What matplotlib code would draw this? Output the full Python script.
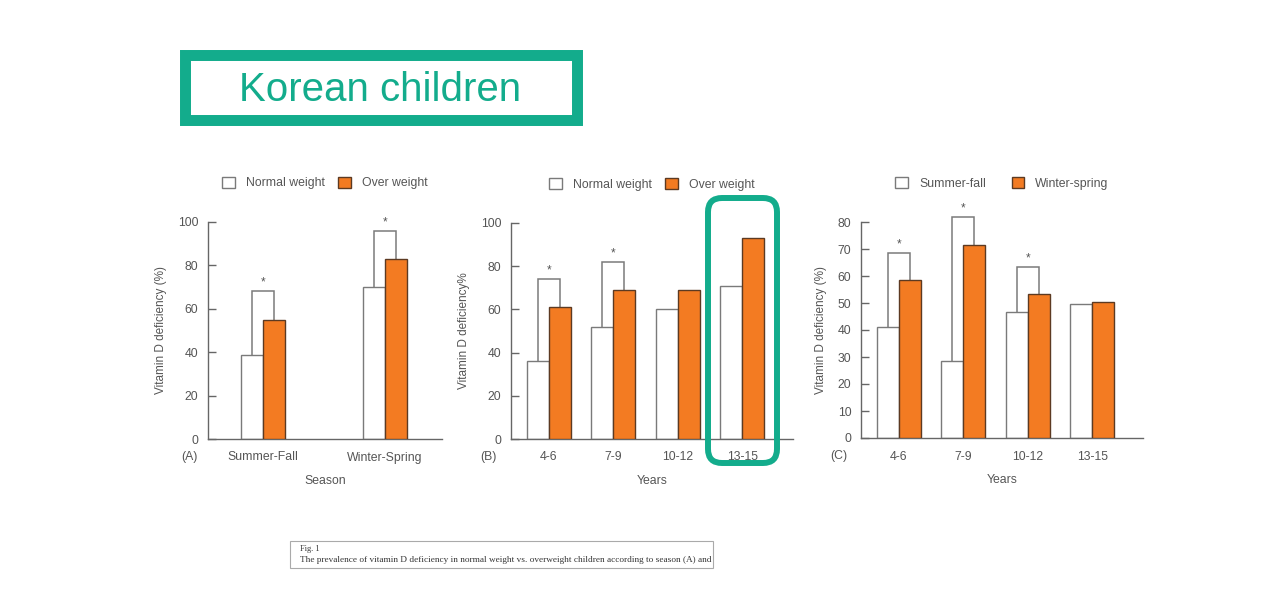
import numpy as np
import matplotlib
matplotlib.use("Agg")
import matplotlib.pyplot as plt
from matplotlib.patches import Rectangle, FancyBboxPatch, Patch

plt.rcParams['font.family'] = ['Liberation Sans', 'DejaVu Sans']

# ---- data ----
seasons = ["Summer-Fall", "Winter-Spring"]
a_normal = [38.5, 70]
a_over = [55, 83]
a_sig = [68, 96]          # bracket height, None = no mark

years = ["4-6", "7-9", "10-12", "13-15"]
b_normal = [36, 52, 60, 71]
b_over = [61, 69, 69, 93]
b_sig = [74, 82, None, None]

c_summer = [41, 28.5, 46.5, 49.5]
c_winter = [58.5, 71.5, 53.5, 50.5]
c_sig = [68.5, 82, 63.5, None]

W, H = 1280, 615
ORANGE = "#F37B22"
GREEN = "#13AC8C"
GREY = "#555555"
EDGE_W = "#7a7a7a"
EDGE_O = "#5c3a22"

fig = plt.figure(figsize=(12.8, 6.15), dpi=100)
fig.patch.set_facecolor("white")


def px_axes(x0, x1, y_top, y_bot):
    return fig.add_axes([x0 / W, (H - y_bot) / H, (x1 - x0) / W, (y_bot - y_top) / H])


def panel(ax, cats, left, right, sig, xlim, bw, ymax, yticks, ylabel, tag, xlabel,
          labels, colspace):
    x = np.arange(len(cats))
    ax.bar(x - bw / 2, left, bw, color="white", edgecolor=EDGE_W, linewidth=1.0, zorder=2)
    ax.bar(x + bw / 2, right, bw, color=ORANGE, edgecolor=EDGE_O, linewidth=1.0, zorder=3)
    for i, s in enumerate(sig):
        if s is None:
            continue
        xs = [x[i] - bw / 2, x[i] - bw / 2, x[i] + bw / 2, x[i] + bw / 2]
        ys = [left[i], s, s, right[i]]
        ax.plot(xs, ys, color=EDGE_W, lw=1.1, zorder=1, solid_joinstyle="miter",
                clip_on=False)
        ax.text(x[i], s + ymax * 0.012, "*", ha="center", va="bottom",
                fontsize=8.5, color=GREY, clip_on=False)
    ax.set_xlim(*xlim)
    ax.set_ylim(0, ymax)
    ax.set_yticks(yticks)
    ax.set_xticks(x)
    ax.set_xticklabels(cats)
    for s in ("top", "right"):
        ax.spines[s].set_visible(False)
    for s in ("left", "bottom"):
        ax.spines[s].set_color("#666666")
        ax.spines[s].set_linewidth(1.0)
    ax.tick_params(axis="y", direction="in", length=6, width=1.0, color="#666666",
                   pad=7, labelsize=8.8, labelcolor=GREY)
    ax.tick_params(axis="x", length=0, pad=9, labelsize=8.8, labelcolor=GREY)
    ax.set_ylabel(ylabel, fontsize=8.5, color=GREY, labelpad=8)
    ax.set_xlabel(xlabel, fontsize=8.8, color=GREY, labelpad=8)
    ax.text(-0.08, -0.084, tag, transform=ax.transAxes, fontsize=8.8, color=GREY,
            ha="center", va="center")
    handles = [Patch(facecolor="white", edgecolor=EDGE_W, lw=1.0),
               Patch(facecolor=ORANGE, edgecolor=EDGE_O, lw=1.0)]
    ax.legend(handles, labels, loc="center", bbox_to_anchor=(0.5, 1.18), ncol=2,
              frameon=False, fontsize=8.8, handlelength=1.05, handleheight=1.05,
              handletextpad=0.9, columnspacing=colspace, labelcolor=GREY)


axA = px_axes(208, 442, 222, 439)
panel(axA, seasons, a_normal, a_over, a_sig, (-0.45, 1.467), 0.18, 100,
      [0, 20, 40, 60, 80, 100], "Vitamin D deficiency (%)", "(A)", "Season",
      ["Normal weight", "Over weight"], 1.1)

axB = px_axes(511, 793, 223, 439)
panel(axB, years, b_normal, b_over, b_sig, (-0.59, 3.79), 0.342, 100,
      [0, 20, 40, 60, 80, 100], "Vitamin D deficiency%", "(B)", "Years",
      ["Normal weight", "Over weight"], 1.1)

axC = px_axes(861, 1143, 222, 438)
panel(axC, years, c_summer, c_winter, c_sig, (-0.59, 3.79), 0.342, 80,
      [0, 10, 20, 30, 40, 50, 60, 70, 80], "Vitamin D deficiency (%)", "(C)", "Years",
      ["Summer-fall", "Winter-spring"], 2.1)

# ---- overlay: title box, highlight, caption ----
ov = fig.add_axes([0, 0, 1, 1], zorder=10)
ov.set_xlim(0, W)
ov.set_ylim(H, 0)
ov.axis("off")
ov.patch.set_alpha(0)

ov.add_patch(Rectangle((185, 55), 392, 65, fill=False, edgecolor=GREEN, lw=7.9))
ov.text(380, 90, "Korean children", ha="center", va="center", fontsize=29,
        color=GREEN, family=["Liberation Sans", "DejaVu Sans"])

ov.add_patch(FancyBboxPatch((708 + 14, 198 + 14), 69 - 28, 265 - 28,
                            boxstyle="round,pad=14", fill=False,
                            edgecolor=GREEN, lw=4.3))

ov.add_patch(Rectangle((290, 541), 423, 27, fill=False, edgecolor="#aaaaaa", lw=0.8))
ov.text(300, 549, "Fig. 1", ha="left", va="center", fontsize=6,
        family=["Liberation Serif", "DejaVu Serif"], color="#333333")
ov.text(300, 560, "The prevalence of vitamin D deficiency in normal weight vs. overweight "
        "children according to season (A) and", ha="left", va="center", fontsize=6.7,
        family=["Liberation Serif", "DejaVu Serif"], color="#333333")

fig.savefig("out.png", dpi=100, facecolor="white")
